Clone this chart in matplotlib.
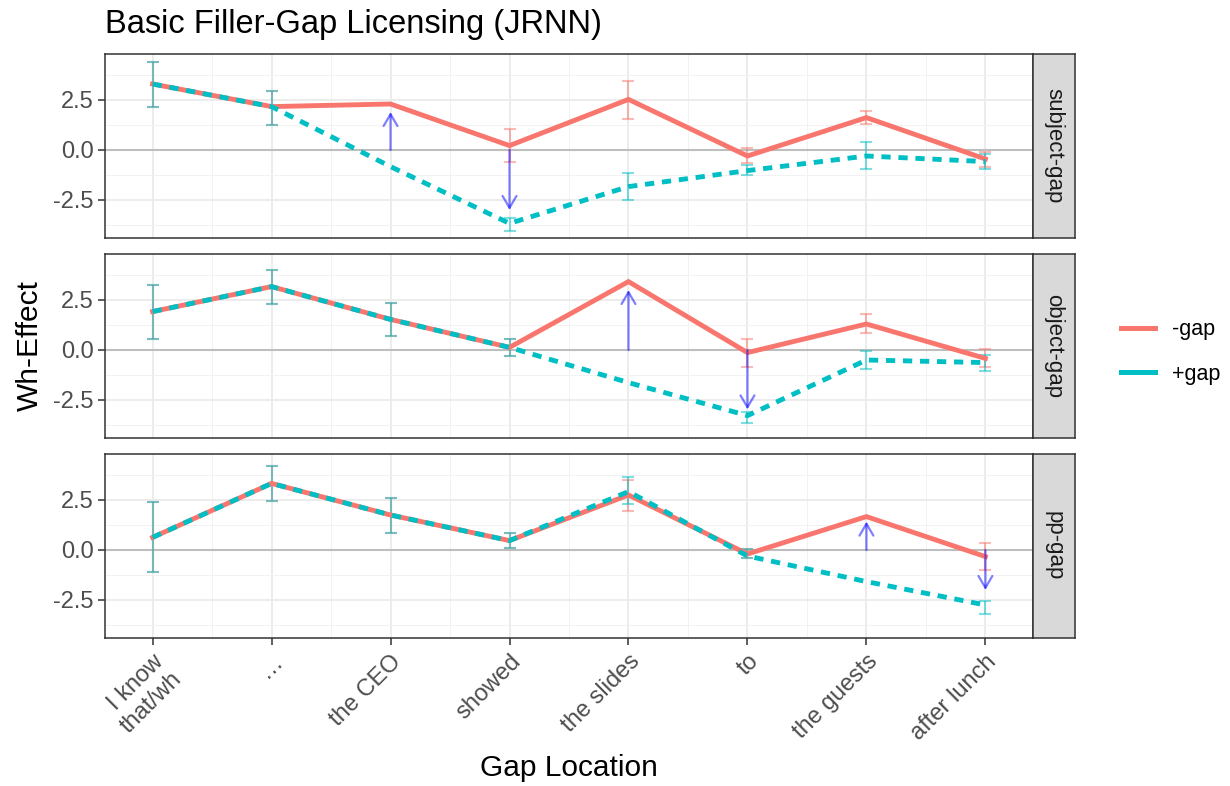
import matplotlib.pyplot as plt
import matplotlib.lines as mlines
import numpy as np

plt.rcParams['font.family'] = ['Liberation Sans', 'DejaVu Sans']

locations = ["I know\nthat/wh", "…", "the CEO", "showed", "the slides", "to", "the guests", "after lunch"]
panels = ["subject-gap", "object-gap", "pp-gap"]
nan = np.nan

# subject-gap
subj_minus = [3.3, 2.17, 2.3, 0.22, 2.53, -0.3, 1.62, -0.45]
subj_plus = [3.3, 2.17, -0.83, -3.67, -1.83, -1.03, -0.3, -0.58]
subj_minus_lo = [2.15, 1.23, nan, -0.58, 1.53, -0.67, 1.28, -0.83]
subj_minus_hi = [4.4, 2.97, nan, 1.03, 3.47, 0.12, 1.95, -0.08]
subj_plus_lo = [2.15, 1.23, nan, -4.05, -2.52, -1.25, -0.97, -0.97]
subj_plus_hi = [4.4, 2.97, nan, -3.42, -1.17, -0.75, 0.4, -0.2]
subj_arrow_x = [3, 4]
subj_arrow_end = [1.9, -3.0]

# object-gap
obj_minus = [1.92, 3.17, 1.53, 0.13, 3.42, -0.13, 1.3, -0.42]
obj_plus = [1.92, 3.17, 1.53, 0.13, -1.63, -3.28, -0.5, -0.63]
obj_minus_lo = [0.53, 2.3, 0.7, -0.3, nan, -0.83, 0.83, -0.83]
obj_minus_hi = [3.25, 4.0, 2.37, 0.53, nan, 0.53, 1.8, 0.03]
obj_plus_lo = [0.53, 2.3, 0.7, -0.3, nan, -3.63, -0.97, -1.03]
obj_plus_hi = [3.25, 4.0, 2.37, 0.53, nan, -3.12, -0.03, -0.25]
obj_arrow_x = [5, 6]
obj_arrow_end = [3.0, -2.97]

# pp-gap
pp_minus = [0.63, 3.33, 1.75, 0.47, 2.75, -0.2, 1.67, -0.33]
pp_plus = [0.63, 3.33, 1.75, 0.47, 2.92, -0.3, -1.58, -2.75]
pp_minus_lo = [-1.08, 2.47, 0.83, 0.08, 1.95, -0.42, nan, -1.0]
pp_minus_hi = [2.38, 4.2, 2.62, 0.83, 3.5, 0.03, nan, 0.37]
pp_plus_lo = [-1.08, 2.47, 0.83, 0.08, 2.3, -0.42, nan, -3.2]
pp_plus_hi = [2.38, 4.2, 2.58, 0.83, 3.67, 0.03, nan, -2.53]
pp_arrow_x = [7, 8]
pp_arrow_end = [1.42, -2.0]

data = [
    (subj_minus, subj_plus, subj_minus_lo, subj_minus_hi, subj_plus_lo, subj_plus_hi, subj_arrow_x, subj_arrow_end),
    (obj_minus, obj_plus, obj_minus_lo, obj_minus_hi, obj_plus_lo, obj_plus_hi, obj_arrow_x, obj_arrow_end),
    (pp_minus, pp_plus, pp_minus_lo, pp_minus_hi, pp_plus_lo, pp_plus_hi, pp_arrow_x, pp_arrow_end),
]

red = "#F8766D"
teal = "#00BFC4"
x = np.arange(1, 9)

fig = plt.figure(figsize=(12.3, 7.86), dpi=100)
W, H = 1230, 786
left, right = 105, 1033
tops = [54, 254, 454]
ph = 184
small = 17

for i, (name, d) in enumerate(zip(panels, data)):
    minus, plus, mlo, mhi, plo, phi, ax_x, ax_end = d
    top = tops[i]
    ax = fig.add_axes([left / W, 1 - (top + ph) / H, (right - left) / W, ph / H])
    ax.set_xlim(0.6, 8.4)
    ax.set_ylim(-4.4, 4.8)
    ax.set_yticks([-2.5, 0, 2.5])
    ax.set_yticks([-3.75, -1.25, 1.25, 3.75], minor=True)
    ax.set_xticks(x)
    ax.set_xticks(np.arange(1.5, 8.5, 1), minor=True)
    ax.grid(which='major', color='#EBEBEB', lw=1.3)
    ax.grid(which='minor', color='#F2F2F2', lw=0.7)
    ax.set_axisbelow(True)
    ax.axhline(0, color='#BEBEBE', lw=1.5, zorder=1.5)
    for sp in ax.spines.values():
        sp.set_color('#333333')
        sp.set_linewidth(1.1)
    ax.tick_params(which='major', length=5, color='#333333', width=1.1, labelsize=small,
                   labelcolor='#4D4D4D', pad=3)
    ax.tick_params(which='minor', length=0)
    ax.set_yticklabels(["-2.5", "0.0", "2.5"])

    ax.errorbar(x, minus, yerr=[np.array(minus) - np.array(mlo), np.array(mhi) - np.array(minus)],
                fmt='none', ecolor=red, alpha=0.5, elinewidth=1.5, capsize=4.5, capthick=1.5, zorder=2)
    ax.errorbar(x, plus, yerr=[np.array(plus) - np.array(plo), np.array(phi) - np.array(plus)],
                fmt='none', ecolor=teal, alpha=0.5, elinewidth=1.5, capsize=4.5, capthick=1.5, zorder=2)
    ax.plot(x, minus, color=red, lw=3.5, solid_joinstyle='miter', zorder=3)
    ax.plot(x, plus, color=teal, lw=3.5, ls=(0, (1.9, 1.6)), zorder=4)
    for xa, ya in zip(ax_x, ax_end):
        ax.annotate("", xy=(xa, ya), xytext=(xa, 0),
                    arrowprops=dict(arrowstyle='->,head_length=0.85,head_width=0.5',
                                    color='#0000FF', alpha=0.5, lw=1.6, shrinkA=0, shrinkB=0),
                    zorder=5)

    if i < 2:
        ax.tick_params(axis='x', which='major', length=0, labelbottom=False)
    else:
        ax.set_xticklabels(locations, rotation=45, ha='right', va='top',
                           rotation_mode='anchor', multialignment='right')
        ax.tick_params(axis='x', pad=4)

    sax = fig.add_axes([right / W, 1 - (top + ph) / H, 42 / W, ph / H])
    sax.set_facecolor('#D9D9D9')
    sax.set_xticks([])
    sax.set_yticks([])
    for sp in sax.spines.values():
        sp.set_color('#333333')
        sp.set_linewidth(1.1)
    sax.text(0.5, 0.5, name, rotation=-90, ha='center', va='center',
             fontsize=16, color='#1A1A1A', transform=sax.transAxes)

fig.text(left / W, 1 - 24 / H, "Basic Filler-Gap Licensing (JRNN)", fontsize=23.5,
         ha='left', va='center')
fig.text(30 / W, 1 - 346 / H, "Wh-Effect", fontsize=21.5, rotation=90, ha='center', va='center')
fig.text((left + right) / 2 / W, 1 - 768 / H, "Gap Location", fontsize=21.5, ha='center', va='center')

handles = [mlines.Line2D([], [], color=red, lw=3.6), mlines.Line2D([], [], color=teal, lw=3.6)]
fig.legend(handles, ["-gap", "+gap"], loc='center left', bbox_to_anchor=(1121 / W, 1 - 352 / H),
           frameon=False, fontsize=15.5, handlelength=1.6, labelspacing=1.08, handletextpad=0.75,
           borderpad=0, borderaxespad=0)

fig.savefig("out.png", dpi=100)
